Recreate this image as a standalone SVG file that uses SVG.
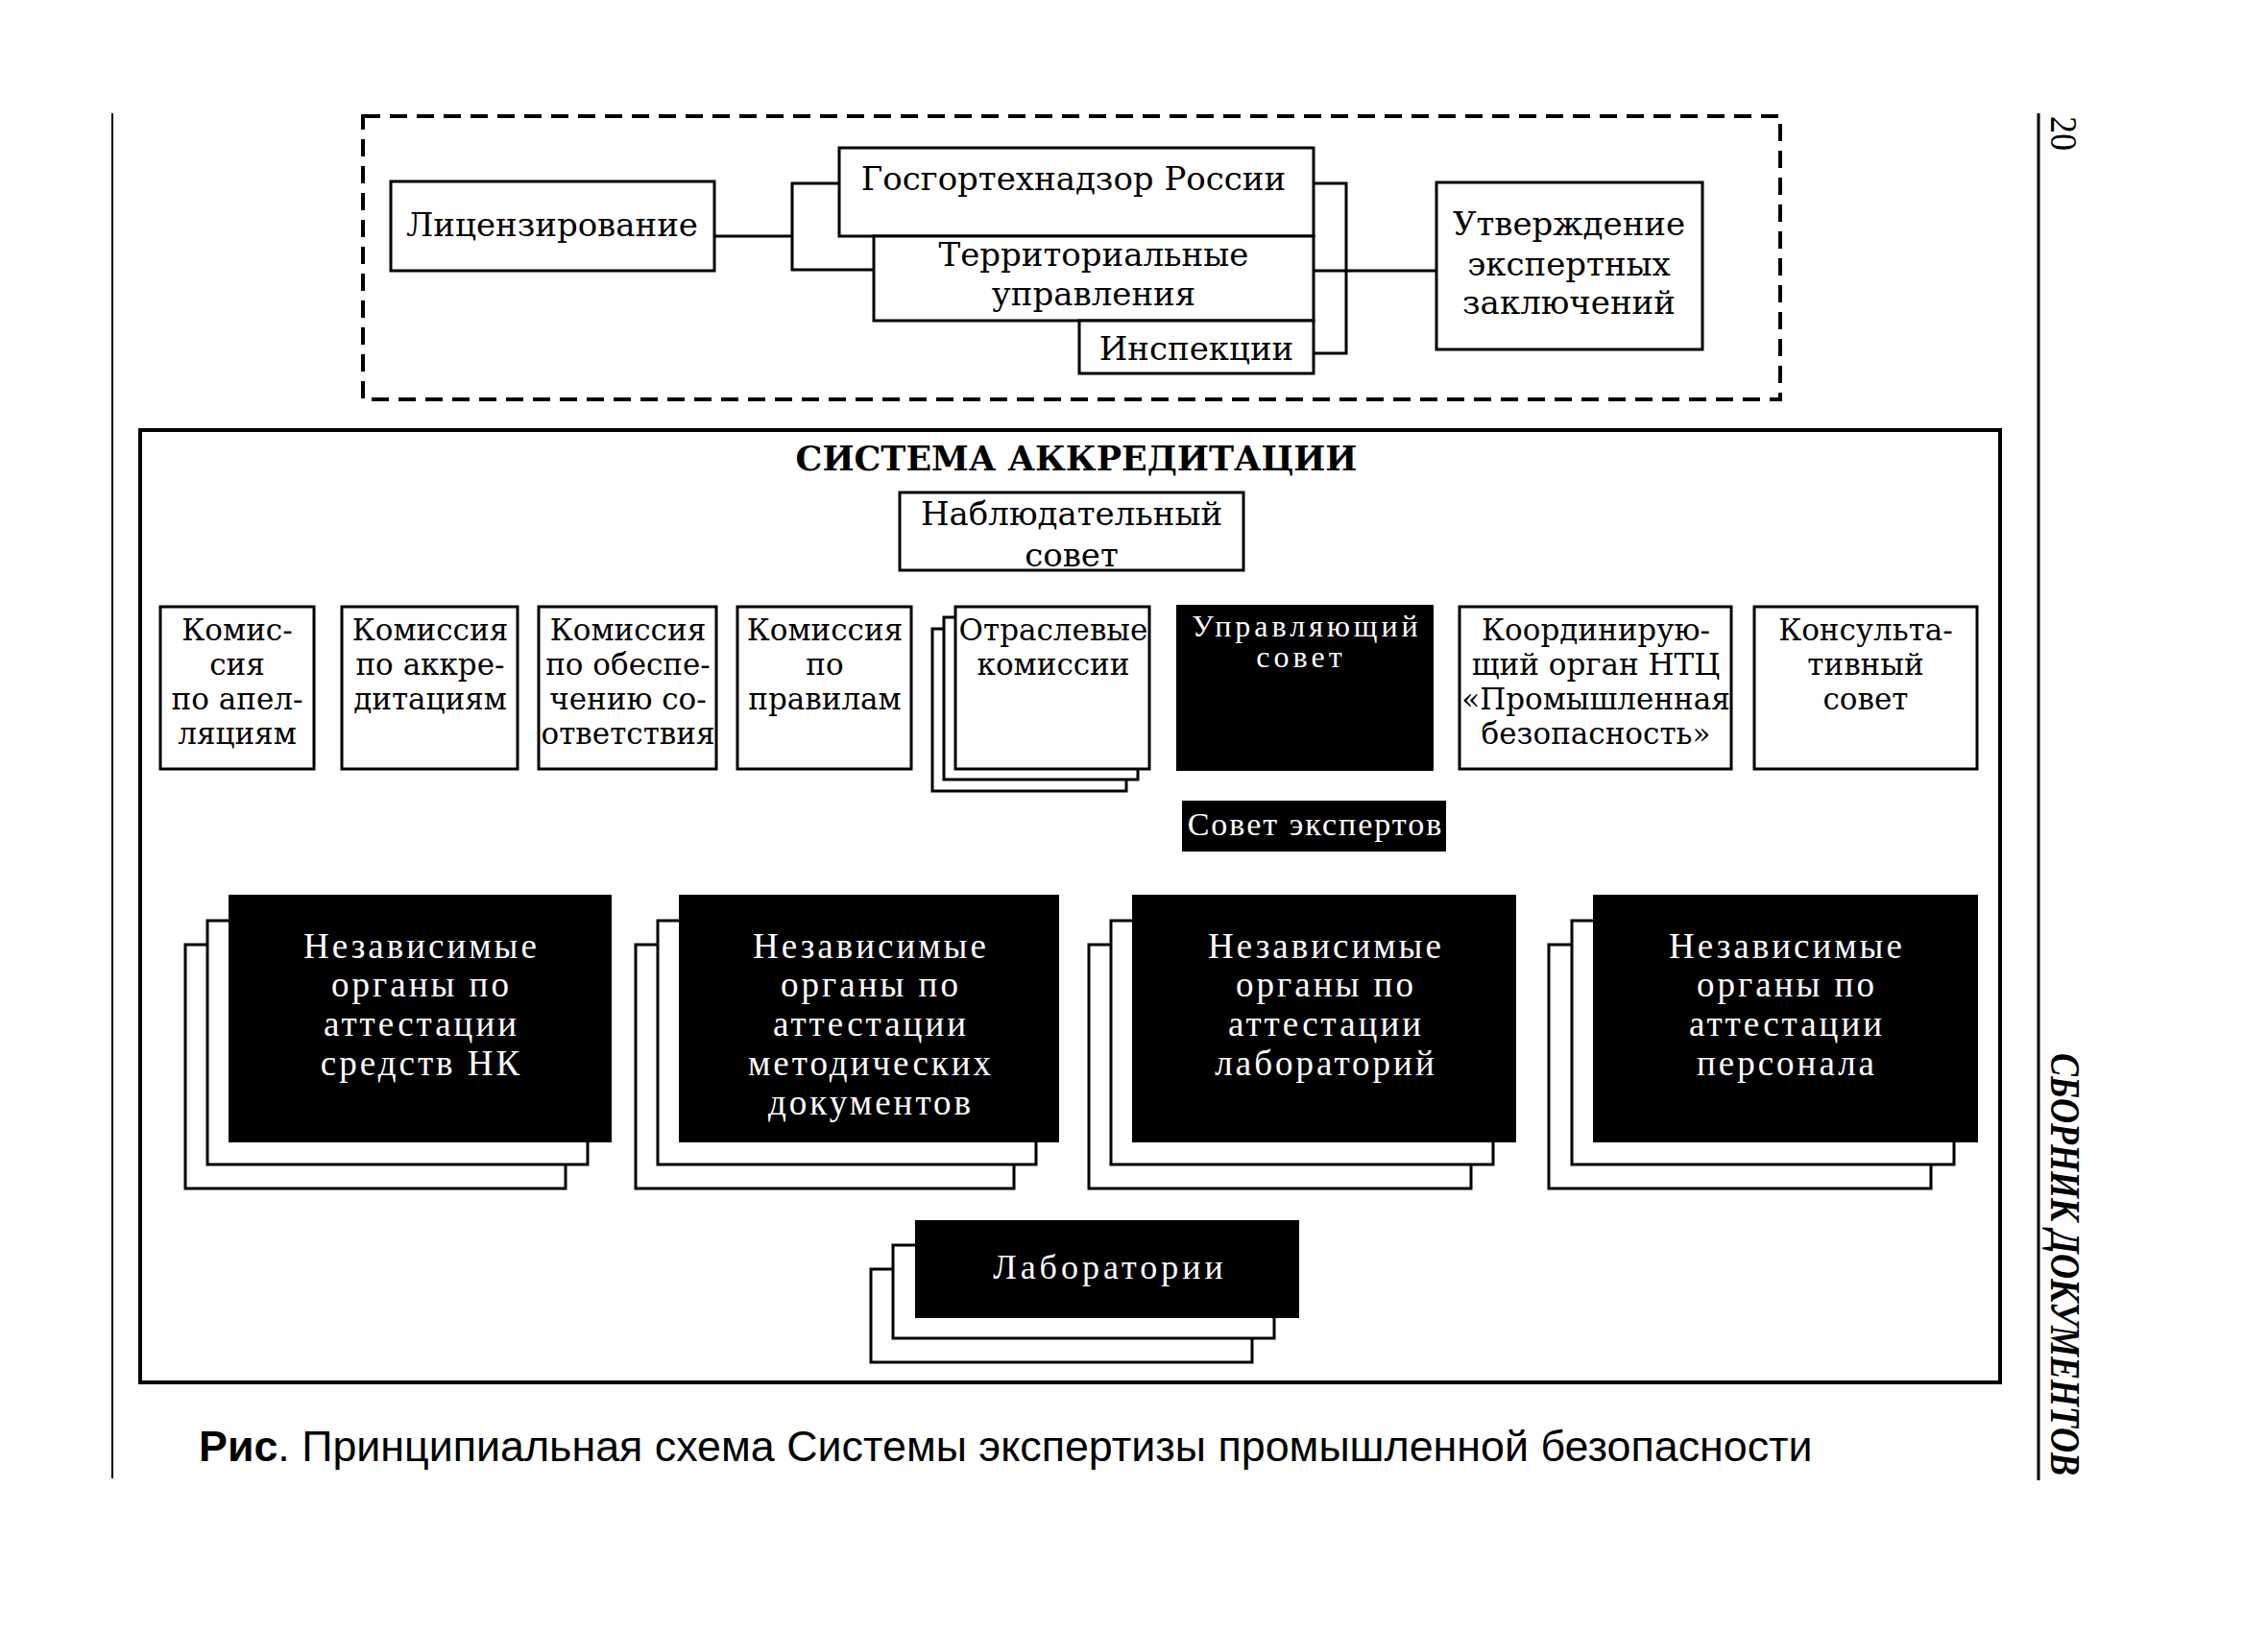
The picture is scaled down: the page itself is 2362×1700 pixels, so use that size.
<svg xmlns="http://www.w3.org/2000/svg" width="2362" height="1700" viewBox="0 0 2362 1700">
<style>
.bx{fill:#fff;stroke:#000;stroke-width:3}
.bk{fill:#000;stroke:#000;stroke-width:2}
.ln{fill:none;stroke:#000;stroke-width:3}
.t{font-family:"DejaVu Serif","Liberation Serif",serif;font-size:34px;text-anchor:middle;fill:#000}
.c{font-family:"DejaVu Serif","Liberation Serif",serif;font-size:31px;text-anchor:middle;fill:#000}
.w{font-family:"Liberation Serif","DejaVu Serif",serif;font-size:37px;text-anchor:middle;fill:#fff;letter-spacing:3px}
.h{font-family:"DejaVu Serif","Liberation Serif",serif;font-size:35px;font-weight:bold;text-anchor:middle;fill:#000}
</style>
<rect width="2362" height="1700" fill="#fff"/>
<g id="page-lines">
<line x1="117" y1="118" x2="117" y2="1540" stroke="#000" stroke-width="2"/>
<line x1="2123" y1="118" x2="2123" y2="1542" stroke="#000" stroke-width="3"/>
<text x="2136" y="121" transform="rotate(90 2136 121)" font-family="Liberation Serif,serif" font-size="40" textLength="36" lengthAdjust="spacingAndGlyphs">20</text>
<text x="2136" y="1097" transform="rotate(90 2136 1097)" font-family="Liberation Serif,serif" font-size="44" font-weight="bold" font-style="italic" textLength="440" lengthAdjust="spacingAndGlyphs">СБОРНИК ДОКУМЕНТОВ</text>
</g>
<g id="licensing-frame">
<rect x="378" y="121" width="1476" height="295" fill="none" stroke="#000" stroke-width="4" stroke-dasharray="18 10"/>
</g>
<g id="connectors">
<path class="ln" d="M744 246H825M874 191H825V281H910"/>
<path class="ln" d="M1368 191H1402V368H1368M1368 282H1496"/>
</g>
<g id="n-licenz"><rect class="bx" x="407" y="189" width="337" height="93"/><text class="t" x="575" y="246">Лицензирование</text></g>
<g id="n-gosgor"><rect class="bx" x="874" y="154" width="494" height="92"/><text class="t" x="1118" y="198">Госгортехнадзор России</text></g>
<g id="n-terr"><rect class="bx" x="910" y="246" width="458" height="88"/><text class="t" x="1139" y="277">Территориальные</text><text class="t" x="1139" y="318">управления</text></g>
<g id="n-insp"><rect class="bx" x="1124" y="334" width="244" height="55"/><text class="t" x="1246" y="375">Инспекции</text></g>
<g id="n-utv"><rect class="bx" x="1496" y="190" width="277" height="174"/><text class="t" x="1634" y="245">Утверждение</text><text class="t" x="1634" y="287">экспертных</text><text class="t" x="1634" y="327">заключений</text></g>
<g id="system">
<rect x="146" y="448" width="1937" height="992" fill="none" stroke="#000" stroke-width="4"/>
<text class="h" x="1121" y="490">СИСТЕМА АККРЕДИТАЦИИ</text>
</g>
<g id="n-nabl"><rect class="bx" x="937" y="513" width="358" height="81"/><text class="t" x="1116" y="547">Наблюдательный</text><text class="t" x="1116" y="590">совет</text></g>
<g id="n-k1"><rect class="bx" x="167" y="632" width="160" height="169"/><text class="c" x="247" y="667">Комис-</text><text class="c" x="247" y="703">сия</text><text class="c" x="247" y="739">по апел-</text><text class="c" x="247" y="775">ляциям</text></g>
<g id="n-k2"><rect class="bx" x="356" y="632" width="183" height="169"/><text class="c" x="448" y="667">Комиссия</text><text class="c" x="448" y="703">по аккре-</text><text class="c" x="448" y="739">дитациям</text></g>
<g id="n-k3"><rect class="bx" x="561" y="632" width="185" height="169"/><text class="c" x="654" y="667">Комиссия</text><text class="c" x="654" y="703">по обеспе-</text><text class="c" x="654" y="739">чению со-</text><text class="c" x="654" y="775">ответствия</text></g>
<g id="n-k4"><rect class="bx" x="768" y="632" width="181" height="169"/><text class="c" x="859" y="667">Комиссия</text><text class="c" x="859" y="703">по</text><text class="c" x="859" y="739">правилам</text></g>
<g id="n-otr"><rect class="bx" x="971" y="655" width="202" height="169"/><rect class="bx" x="983" y="643" width="202" height="169"/><rect class="bx" x="995" y="632" width="202" height="169"/><text class="c" x="1097" y="667">Отраслевые</text><text class="c" x="1097" y="703">комиссии</text></g>
<g id="n-upr"><rect class="bk" x="1226" y="631" width="266" height="171"/><text class="w" x="1361" y="663" style="font-size:32px;letter-spacing:4px">Управляющий</text><text class="w" x="1355" y="695" style="font-size:32px;letter-spacing:4px">совет</text></g>
<g id="n-koord"><rect class="bx" x="1520" y="632" width="283" height="169"/><text class="c" x="1662" y="667">Координирую-</text><text class="c" x="1662" y="703">щий орган НТЦ</text><text class="c" x="1662" y="739">«Промышленная</text><text class="c" x="1662" y="775">безопасность»</text></g>
<g id="n-kons"><rect class="bx" x="1827" y="632" width="232" height="169"/><text class="c" x="1943" y="667">Консульта-</text><text class="c" x="1943" y="703">тивный</text><text class="c" x="1943" y="739">совет</text></g>
<g id="n-sovexp"><rect class="bk" x="1232" y="835" width="273" height="51"/><text class="w" x="1370" y="870" style="font-size:34px;letter-spacing:2px">Совет экспертов</text></g>
<g id="n-nk"><rect class="bx" x="193" y="984" width="396" height="254"/><rect class="bx" x="216" y="959" width="396" height="254"/><rect class="bk" x="239" y="933" width="397" height="256"/><text class="w" x="439" y="998">Независимые</text><text class="w" x="439" y="1038">органы по</text><text class="w" x="439" y="1079">аттестации</text><text class="w" x="439" y="1120">средств НК</text></g>
<g id="n-met"><rect class="bx" x="662" y="984" width="394" height="254"/><rect class="bx" x="685" y="959" width="394" height="254"/><rect class="bk" x="708" y="933" width="394" height="256"/><text class="w" x="907" y="998">Независимые</text><text class="w" x="907" y="1038">органы по</text><text class="w" x="907" y="1079">аттестации</text><text class="w" x="907" y="1120">методических</text><text class="w" x="907" y="1161">документов</text></g>
<g id="n-lab"><rect class="bx" x="1134" y="984" width="398" height="254"/><rect class="bx" x="1157" y="959" width="398" height="254"/><rect class="bk" x="1180" y="933" width="398" height="256"/><text class="w" x="1381" y="998">Независимые</text><text class="w" x="1381" y="1038">органы по</text><text class="w" x="1381" y="1079">аттестации</text><text class="w" x="1381" y="1120">лабораторий</text></g>
<g id="n-pers"><rect class="bx" x="1613" y="984" width="398" height="254"/><rect class="bx" x="1637" y="959" width="398" height="254"/><rect class="bk" x="1660" y="933" width="399" height="256"/><text class="w" x="1861" y="998">Независимые</text><text class="w" x="1861" y="1038">органы по</text><text class="w" x="1861" y="1079">аттестации</text><text class="w" x="1861" y="1120">персонала</text></g>
<g id="n-labs"><rect class="bx" x="907" y="1322" width="397" height="97"/><rect class="bx" x="930" y="1297" width="397" height="97"/><rect class="bk" x="954" y="1272" width="398" height="100"/><text class="w" x="1156" y="1332" style="font-size:36px;letter-spacing:4px">Лаборатории</text></g>
<g id="caption"><text x="207" y="1522" font-family="Liberation Sans,Arial,sans-serif" font-size="44.8"><tspan font-weight="bold">Рис</tspan>. Принципиальная схема Системы экспертизы промышленной безопасности</text></g>
</svg>
